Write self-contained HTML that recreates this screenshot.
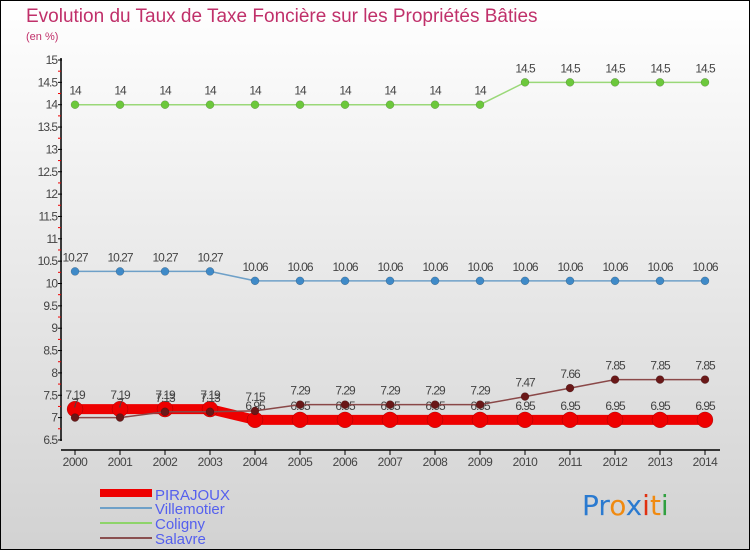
<!DOCTYPE html>
<html><head><meta charset="utf-8"><style>
body{margin:0;}
#c{width:750px;height:550px;position:relative;font-family:"Liberation Sans",sans-serif;}
</style></head><body>
<div id="c">
<svg id="s" width="750" height="550" xmlns="http://www.w3.org/2000/svg">
<defs><linearGradient id="bg" x1="0" y1="0" x2="0" y2="1"><stop offset="0" stop-color="#ffffff"/><stop offset="1" stop-color="#d2d2d2"/></linearGradient></defs>
<rect x="0.5" y="0.5" width="749" height="549" fill="url(#bg)" stroke="#000"/>
<text x="26" y="22" font-size="19" fill="#c0306a">Evolution du Taux de Taxe Foncière sur les Propriétés Bâties</text>
<text x="26" y="40" font-size="11" fill="#c0306a">(en %)</text>
<g id="axes"></g><g id="series"></g>
<g>
<rect x="100" y="489" width="52" height="8" fill="#e00"/>
<text x="155" y="500" font-size="15" fill="#5560ee">PIRAJOUX</text>
<line x1="100" y1="508" x2="152" y2="508" stroke="#6ea0c8" stroke-width="2"/>
<text x="155" y="514" font-size="15" fill="#5560ee">Villemotier</text>
<line x1="100" y1="523" x2="152" y2="523" stroke="#8ed46a" stroke-width="2"/>
<text x="155" y="529" font-size="15" fill="#5560ee">Coligny</text>
<line x1="100" y1="538" x2="152" y2="538" stroke="#8a5050" stroke-width="2"/>
<text x="155" y="544" font-size="15" fill="#5560ee">Salavre</text>
</g>
<g font-size="28" font-family="'DejaVu Sans',sans-serif">
<text x="582" y="515"><tspan fill="#2a7ad0">Pr</tspan><tspan fill="#f08a10">o</tspan><tspan fill="#2a7ad0">x</tspan><tspan fill="#e03010">i</tspan><tspan fill="#f08a10">t</tspan><tspan fill="#30a040">i</tspan></text>
</g>
</svg>
</div>
<script>
const years=[2000,2001,2002,2003,2004,2005,2006,2007,2008,2009,2010,2011,2012,2013,2014];
const pirajoux=[7.19,7.19,7.19,7.19,6.95,6.95,6.95,6.95,6.95,6.95,6.95,6.95,6.95,6.95,6.95];
const villemotier=[10.27,10.27,10.27,10.27,10.06,10.06,10.06,10.06,10.06,10.06,10.06,10.06,10.06,10.06,10.06];
const coligny=[14,14,14,14,14,14,14,14,14,14,14.5,14.5,14.5,14.5,14.5];
const salavre=[7,7,7.13,7.13,7.15,7.29,7.29,7.29,7.29,7.29,7.47,7.66,7.85,7.85,7.85];
const yTicks=[6.5,7,7.5,8,8.5,9,9.5,10,10.5,11,11.5,12,12.5,13,13.5,14,14.5,15];
const NS="http://www.w3.org/2000/svg";
const X=i=>75+i*45;
const Y=v=>60+(15-v)*44.7;
function el(t,a,p){const e=document.createElementNS(NS,t);for(const k in a)e.setAttribute(k,a[k]);p.appendChild(e);return e;}
const ax=document.getElementById('axes');
let l=el('line',{x1:61,y1:58,x2:61,y2:441,stroke:'#000','stroke-width':1.5},ax);


l=el('line',{x1:61,y1:450,x2:720,y2:450,stroke:'#000','stroke-width':1.5},ax);


yTicks.forEach(v=>{
 el('line',{x1:58,y1:Y(v),x2:62,y2:Y(v),stroke:'#000'},ax);
 if(v<15) el('line',{x1:58,y1:Y(v+0.25),x2:61,y2:Y(v+0.25),stroke:'#e00'},ax);
 const t=el('text',{x:57,y:Y(v)+4,'font-size':12,fill:'#444','text-anchor':'end','letter-spacing':'-1'},ax);
 t.textContent=String(v);
 
 
});
years.forEach((yr,i)=>{
 el('line',{x1:X(i),y1:450,x2:X(i),y2:455,stroke:'#000'},ax);
 const t=el('text',{x:X(i),y:466,'font-size':12,fill:'#444','text-anchor':'middle','letter-spacing':'-0.5'},ax);
 t.textContent=String(yr);
 
 
});
const sg=document.getElementById('series');
function series(name,vals,color,w,r,mfill){
 const g=el('g',{},sg);
 
 
 const pl=el('polyline',{points:vals.map((v,i)=>X(i)+','+Y(v)).join(' '),fill:'none',stroke:color,'stroke-width':w},g);
 
 
 vals.forEach((v,i)=>{
  const c=el('circle',{cx:X(i),cy:Y(v),r:r,fill:mfill,stroke:'rgba(0,0,0,0.3)','stroke-width':0.5},g);
  
  
  const t=el('text',{x:X(i),y:Y(v)-10,'font-size':12,fill:'#444','text-anchor':'middle','letter-spacing':'-1'},g);
  t.textContent=String(v);
  
  
 });
}
series('coligny',coligny,'#9ad878',1.5,4,'#6cc83c');
series('villemotier',villemotier,'#6ea0c8',1.5,4,'#3f8ac8');
series('pirajoux',pirajoux,'#ee0000',10,8,'#ee0000');
series('salavre',salavre,'#8a4848',1.5,4,'#6a1818');
</script>
</body></html>
